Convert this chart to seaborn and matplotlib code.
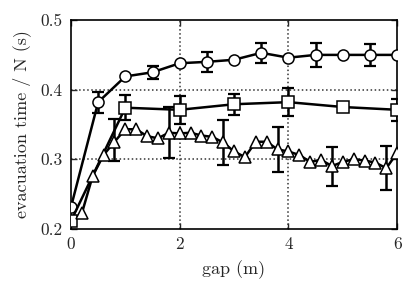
import matplotlib
matplotlib.use("Agg")
import matplotlib.pyplot as plt
import seaborn as sns
import pandas as pd

# ---- data ----
circle_x = [0, 0.5, 1, 1.5, 2, 2.5, 3, 3.5, 4, 4.5, 5, 5.5, 6]
circle_y = [0.231, 0.382, 0.419, 0.425, 0.438, 0.440, 0.443, 0.453, 0.446, 0.450, 0.450, 0.450, 0.450]
circle_err_x = [0.5, 1.5, 2.5, 3.5, 4.5, 5.5]
circle_err_y = [0.382, 0.425, 0.440, 0.453, 0.450, 0.450]
circle_err = [0.015, 0.009, 0.014, 0.014, 0.017, 0.016]

square_x = [0, 1, 2, 3, 4, 5, 6]
square_y = [0.211, 0.374, 0.371, 0.379, 0.382, 0.375, 0.371]
square_err_x = [1, 2, 3, 4, 6]
square_err_y = [0.374, 0.371, 0.379, 0.382, 0.371]
square_err = [0.018, 0.020, 0.015, 0.020, 0.016]

tri_x = [0.2, 0.4, 0.6, 0.8, 1.0, 1.2, 1.4, 1.6, 1.8, 2.0, 2.2, 2.4, 2.6, 2.8, 3.0,
         3.2, 3.4, 3.6, 3.8, 4.0, 4.2, 4.4, 4.6, 4.8, 5.0, 5.2, 5.4, 5.6, 5.8, 6.0]
tri_y = [0.222, 0.276, 0.306, 0.325, 0.343, 0.343, 0.333, 0.330, 0.338, 0.337, 0.338, 0.334,
         0.332, 0.324, 0.311, 0.303, 0.325, 0.325, 0.314, 0.311, 0.306, 0.296, 0.299, 0.290,
         0.296, 0.300, 0.298, 0.295, 0.287, 0.309]
tri_err_x = [0.8, 1.8, 2.8, 3.8, 4.8, 5.8]
tri_err_y = [0.328, 0.338, 0.324, 0.314, 0.290, 0.287]
tri_err = [0.030, 0.037, 0.032, 0.032, 0.028, 0.032]

x_ticks = [0, 2, 4, 6]
y_ticks = [0.2, 0.3, 0.4, 0.5]
y_tick_labels = ["0.2", "0.3", "0.4", "0.5"]

sns.set_style("ticks")
plt.rcParams['font.family'] = ['cmr10', 'DejaVu Serif']
plt.rcParams['axes.formatter.use_mathtext'] = True

fig = plt.figure(figsize=(4.15, 2.92), dpi=100)
ax = fig.add_axes([0.171, 0.217, 0.786, 0.714])

for xs, ys, m, ms in [(circle_x, circle_y, 'o', 8), (square_x, square_y, 's', 8), (tri_x, tri_y, '^', 9)]:
    df = pd.DataFrame({"x": xs, "y": ys})
    sns.lineplot(data=df, x="x", y="y", ax=ax, color='black', linewidth=1.8,
                 marker=m, markersize=ms, markerfacecolor='white',
                 markeredgecolor='black', markeredgewidth=1.1, zorder=3)

for ex, ey, ee in [(circle_err_x, circle_err_y, circle_err),
                   (square_err_x, square_err_y, square_err),
                   (tri_err_x, tri_err_y, tri_err)]:
    ax.errorbar(ex, ey, yerr=ee, fmt='none', ecolor='black', elinewidth=1.8,
                capsize=4, capthick=1.6, zorder=2)

ax.set_xlim(0, 6)
ax.set_ylim(0.2, 0.5)
ax.set_xticks(x_ticks)
ax.set_xticklabels([str(t) for t in x_ticks])
ax.set_yticks(y_ticks)
ax.set_yticklabels(y_tick_labels)
for v in [2, 4]:
    ax.axvline(v, color='#333333', linestyle=':', linewidth=1.1, zorder=1)
for v in [0.3, 0.4]:
    ax.axhline(v, color='#333333', linestyle=':', linewidth=1.1, zorder=1)
ax.tick_params(direction='in', length=4, width=1, labelsize=12.5, top=True, right=True, pad=6)
for s in ax.spines.values():
    s.set_linewidth(1.2)
    s.set_color('black')
ax.set_xlabel("gap (m)", fontsize=13, labelpad=6)
ax.set_ylabel("evacuation time / N (s)", fontsize=13, labelpad=7)

fig.savefig("out.png", dpi=100)
